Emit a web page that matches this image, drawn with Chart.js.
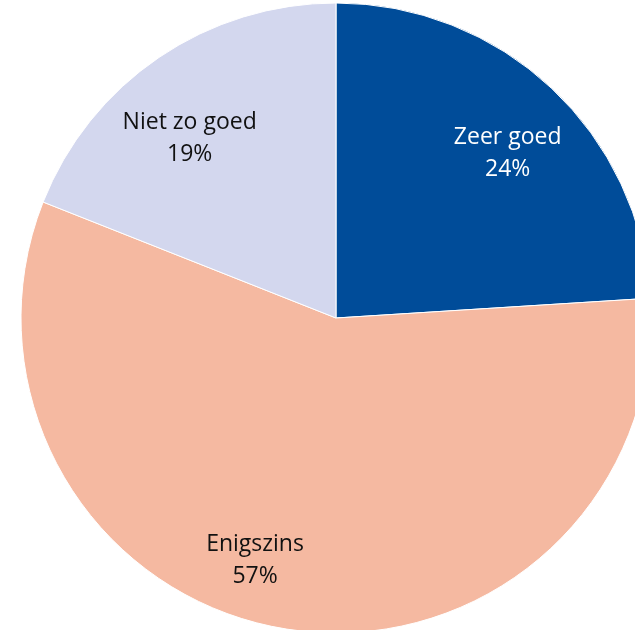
<!DOCTYPE html>
<html>
<head>
<meta charset="utf-8">
<script src="https://cdn.jsdelivr.net/npm/chart.js@4/dist/chart.umd.min.js"></script>
<style>
  html, body { margin: 0; padding: 0; background: #fff; overflow: hidden; width: 635px; height: 630px; }
  #wrap { position: absolute; left: 15.5px; top: -2.5px; width: 640px; height: 640px; }
</style>
</head>
<body>
<div id="wrap"><canvas id="pieChart"></canvas></div>
<script>
// ========== DATA ==========
const categories = ['Zeer goed', 'Enigszins', 'Niet zo goed'];
const shares = [24, 57, 19];
const sliceColors = ['#004C99', '#F5B9A1', '#D3D7EE'];
const labelColors = ['#FFFFFF', '#111111', '#111111'];

// ========== SLICE LABELS ==========
// nudge (angle in degrees, radius factor) so labels sit where the original placed them
const labelPlacement = [
  { turn: 3, dist: 0.755 },
  { turn: 9.5, dist: 0.81 },
  { turn: -5, dist: 0.735 }
];

const sliceLabels = {
  id: 'sliceLabels',
  afterDatasetsDraw(chart) {
    const ctx = chart.ctx;
    const meta = chart.getDatasetMeta(0);
    ctx.save();
    ctx.font = '23px "Open Sans", "Liberation Sans", sans-serif';
    ctx.textAlign = 'center';
    ctx.textBaseline = 'middle';
    meta.data.forEach((arc, i) => {
      const p = labelPlacement[i];
      const mid = (arc.startAngle + arc.endAngle) / 2 + p.turn * Math.PI / 180;
      const r = arc.outerRadius * p.dist;
      const x = arc.x + Math.cos(mid) * r;
      const y = arc.y + Math.sin(mid) * r;
      ctx.fillStyle = labelColors[i];
      ctx.fillText(categories[i], x, y - 16);
      ctx.fillText(shares[i] + '%', x, y + 16);
    });
    ctx.restore();
  }
};

new Chart(document.getElementById('pieChart'), {
  type: 'pie',
  data: {
    labels: categories,
    datasets: [{
      data: shares,
      backgroundColor: sliceColors,
      borderColor: '#FFFFFF',
      borderWidth: 1,
      hoverOffset: 0,
      radius: 315
    }]
  },
  options: {
    responsive: true,
    maintainAspectRatio: false,
    animation: false,
    layout: { padding: 0 },
    plugins: {
      legend: { display: false },
      tooltip: { enabled: false }
    }
  },
  plugins: [sliceLabels]
});
</script>
</body>
</html>
